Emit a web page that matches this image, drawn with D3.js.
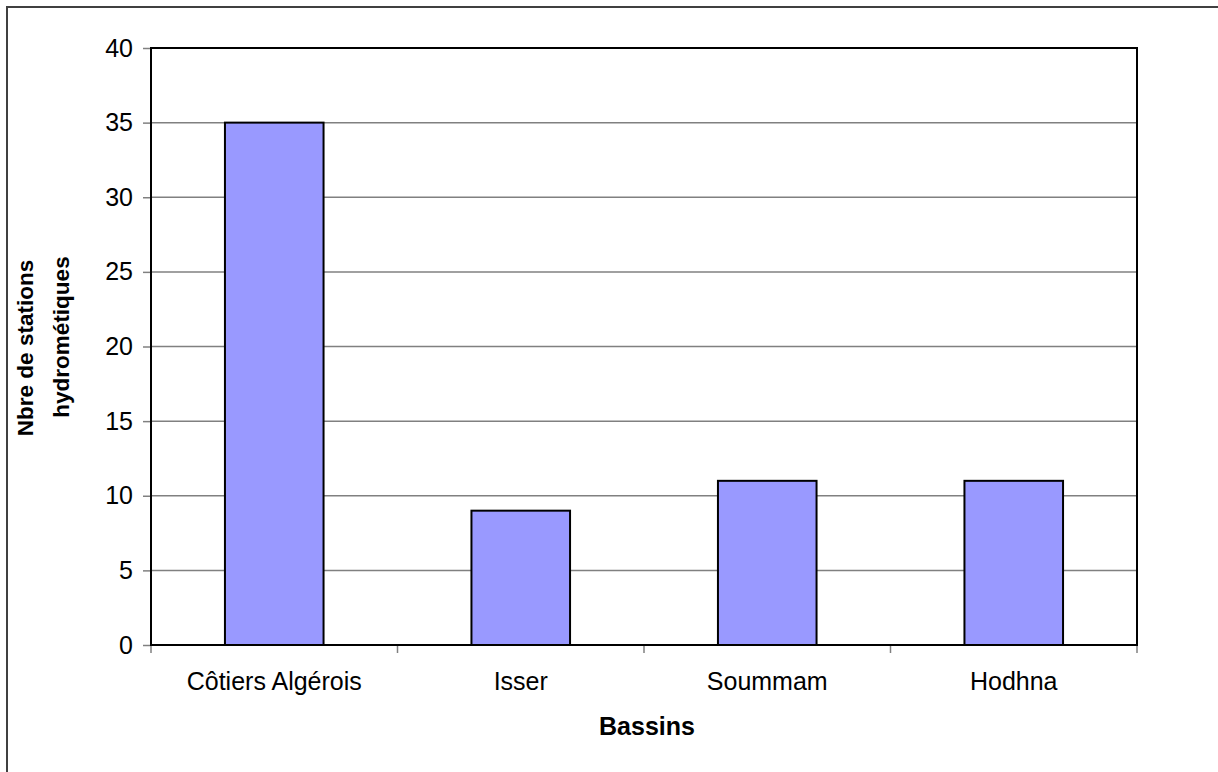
<!DOCTYPE html>
<html>
<head>
<meta charset="utf-8">
<script src="https://cdn.jsdelivr.net/npm/d3@7"></script>
<style>
  body { margin: 0; background: #fff; }
  svg { display: block; font-family: "Liberation Sans", Arial, sans-serif; }
</style>
</head>
<body>
<svg width="1218" height="772"></svg>
<script>
const categories = ['Côtiers Algérois', 'Isser', 'Soummam', 'Hodhna'];
const stations = [35, 9, 11, 11];
const yTicks = [0, 5, 10, 15, 20, 25, 30, 35, 40];

const svg = d3.select('svg');

// outer chart frame (runs off the right and bottom edges)
svg.append('rect')
    .attr('x', 7).attr('y', 7)
    .attr('width', 1240).attr('height', 800)
    .attr('fill', 'none')
    .attr('stroke', '#404040')
    .attr('stroke-width', 2);

const plot = { left: 151, top: 48, right: 1137, bottom: 645 };

const x = d3.scaleBand()
    .domain(categories)
    .range([plot.left, plot.right])
    .paddingInner(0.6)
    .paddingOuter(0.3);

const xOuter = d3.scaleBand()
    .domain(categories)
    .range([plot.left, plot.right]);

const y = d3.scaleLinear()
    .domain([0, 40])
    .range([plot.bottom, plot.top]);

// gridlines
svg.append('g')
    .selectAll('line')
    .data(yTicks.filter(d => d > 0 && d < 40))
    .join('line')
    .attr('x1', plot.left).attr('x2', plot.right)
    .attr('y1', d => y(d)).attr('y2', d => y(d))
    .attr('stroke', '#808080')
    .attr('stroke-width', 1.5);

// bars
svg.append('g')
    .selectAll('rect')
    .data(stations)
    .join('rect')
    .attr('x', (d, i) => x(categories[i]))
    .attr('y', d => y(d))
    .attr('width', x.bandwidth())
    .attr('height', d => y(0) - y(d))
    .attr('fill', '#9999ff')
    .attr('stroke', '#000')
    .attr('stroke-width', 2);

// y axis
const yAxis = svg.append('g')
    .attr('transform', `translate(${plot.left},0)`)
    .call(d3.axisLeft(y).tickValues(yTicks).tickSize(8).tickPadding(10));
yAxis.select('.domain').remove();
yAxis.selectAll('.tick line').attr('stroke', '#808080').attr('stroke-width', 1.5);
yAxis.selectAll('.tick text')
    .attr('font-size', 25)
    .attr('font-family', '"Liberation Sans", Arial, sans-serif')
    .attr('fill', '#000');

// x axis: ticks at category boundaries
const xAxis = svg.append('g')
    .attr('transform', `translate(0,${plot.bottom})`);
xAxis.selectAll('line')
    .data(categories.concat(['end']))
    .join('line')
    .attr('x1', (d, i) => i < categories.length ? xOuter(d) : plot.right)
    .attr('x2', (d, i) => i < categories.length ? xOuter(d) : plot.right)
    .attr('y1', 0).attr('y2', 8)
    .attr('stroke', '#808080')
    .attr('stroke-width', 1.5);
xAxis.selectAll('text')
    .data(categories)
    .join('text')
    .attr('x', d => xOuter(d) + xOuter.bandwidth() / 2)
    .attr('y', 45)
    .attr('text-anchor', 'middle')
    .attr('font-size', 25)
    .text(d => d);

// plot area frame
svg.append('rect')
    .attr('x', plot.left).attr('y', plot.top)
    .attr('width', plot.right - plot.left)
    .attr('height', plot.bottom - plot.top)
    .attr('fill', 'none')
    .attr('stroke', '#000')
    .attr('stroke-width', 2);

// axis titles
svg.append('text')
    .attr('x', 647).attr('y', 735)
    .attr('text-anchor', 'middle')
    .attr('font-size', 25)
    .attr('font-weight', 'bold')
    .text('Bassins');

svg.append('text')
    .attr('transform', 'translate(33,348) rotate(-90)')
    .attr('text-anchor', 'middle')
    .attr('font-size', 22.5)
    .attr('font-weight', 'bold')
    .text('Nbre de stations');

svg.append('text')
    .attr('transform', 'translate(69,337) rotate(-90)')
    .attr('text-anchor', 'middle')
    .attr('font-size', 22.5)
    .attr('font-weight', 'bold')
    .text('hydrométiques');
</script>
</body>
</html>
